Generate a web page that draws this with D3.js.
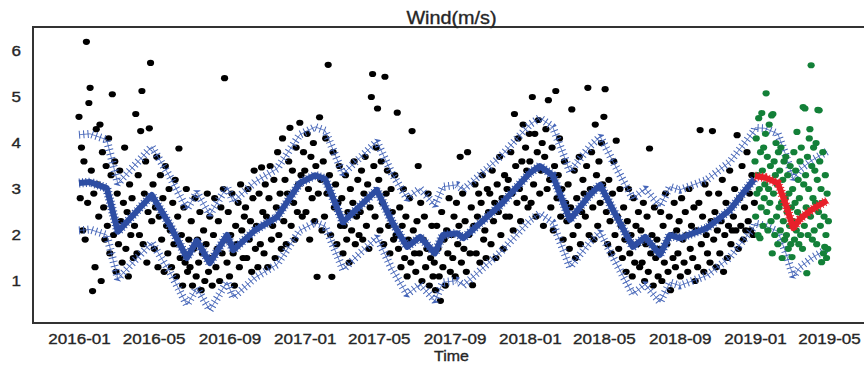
<!DOCTYPE html>
<html>
<head>
<meta charset="utf-8">
<script src="https://cdn.jsdelivr.net/npm/d3@7/dist/d3.min.js"></script>
<style>
  body { margin: 0; background: #fff; }
  svg { display: block; font-family: "Liberation Sans", Arial, sans-serif; }
  .label { fill: #262626; stroke: #262626; stroke-width: 0.35px; }
</style>
</head>
<body>
<svg id="chart" width="864" height="365"></svg>
<script>
// fitted trend (yhat) and bounds
var fitDates = ['2016-01-01','2016-01-19','2016-02-15','2016-03-04','2016-04-28','2016-05-28','2016-06-24',
  '2016-07-10','2016-07-31','2016-08-28','2016-09-07','2016-10-12','2016-11-17','2016-12-24','2017-01-18',
  '2017-02-03','2017-03-04','2017-04-28','2017-05-22','2017-06-16','2017-07-07','2017-07-31','2017-08-13',
  '2017-09-05','2017-09-15','2017-11-14','2018-01-01','2018-01-17','2018-02-07','2018-03-07','2018-04-08',
  '2018-04-25','2018-05-16','2018-06-17','2018-07-07','2018-07-18','2018-07-31','2018-08-16','2018-09-01',
  '2018-10-15','2018-11-21','2018-12-31'];
var fitValues = [3.13,3.15,3.02,2.07,2.87,2.20,1.50,1.88,1.39,2.00,1.67,2.10,2.39,3.13,3.30,
  3.22,2.28,2.98,2.30,1.74,1.96,1.60,2.00,2.04,1.93,2.65,3.35,3.50,3.30,2.33,2.87,
  3.09,2.54,1.74,1.96,1.78,1.57,2.00,1.93,2.15,2.54,3.22];
var fitUpper = [4.18,4.20,4.07,3.12,3.92,3.25,2.56,2.93,2.45,3.05,2.72,3.15,3.44,4.18,4.35,
  4.27,3.33,4.03,3.35,2.79,3.01,2.65,3.05,3.09,2.98,3.70,4.40,4.55,4.35,3.38,3.92,
  4.14,3.59,2.79,3.01,2.83,2.62,3.05,2.98,3.20,3.59,4.27];
var fitLower = [2.10,2.12,2.00,1.05,1.84,1.18,0.48,0.85,0.37,0.98,0.64,1.07,1.36,2.10,2.27,
  2.19,1.25,1.95,1.27,0.71,0.93,0.57,0.97,1.01,0.90,1.62,2.32,2.47,2.27,1.30,1.84,
  2.06,1.51,0.71,0.93,0.75,0.54,0.97,0.90,1.12,1.51,2.19];

// forecast over the test period
var fcDates = ['2019-01-01','2019-01-17','2019-02-07','2019-02-19','2019-03-04','2019-03-15','2019-04-03','2019-04-28'];
var fcValues = [3.28,3.25,3.13,2.70,2.15,2.35,2.55,2.75];
var fcUpper = [4.33,4.32,4.20,3.77,3.22,3.42,3.62,3.82];
var fcLower = [2.25,2.20,2.08,1.65,1.10,1.30,1.50,1.70];

// observed wind speed, one value every 2 days from Jan 1 of each year
var obs2016 = [
  4.57,2.8,3.9,2.1,3.6,1.9,6.2,2.7,4.87,5.2,3.4,0.78,2.9,1.3,4.3,
  3.1,2.4,4.4,1.0,3.8,2.6,1.9,3.5,2.2,4.1,1.6,3.3,5.06,2.0,3.6,
  1.2,2.9,1.8,3.4,2.3,1.4,2.7,3.9,1.7,2.5,1.1,3.1,2.0,2.8,1.5,
  2.2,4.63,1.6,3.3,2.0,4.26,5.13,1.8,2.9,3.6,1.4,2.5,4.32,5.74,2.3,
  3.1,1.7,2.6,3.7,1.3,2.4,3.3,1.9,2.8,1.2,3.5,2.2,1.6,3.0,2.1,
  1.3,2.7,1.8,3.2,1.1,2.4,3.88,1.5,2.0,0.9,2.6,1.4,3.0,1.2,1.9,
  1.3,2.3,0.9,1.7,2.8,1.1,1.9,1.4,2.5,0.8,1.6,2.1,1.0,1.8,2.9,
  1.2,2.4,1.5,0.9,2.0,2.8,1.3,1.7,2.3,1.0,2.6,1.6,3.0,5.41,1.9,
  1.4,2.5,1.1,2.0,2.9,1.6,0.9,2.2,1.8,2.7,1.3,3.1,2.1,1.5,2.4,
  2.6,1.5,3.0,1.9,2.3,1.2,2.8,3.4,1.7,2.2,1.3,2.9,1.8,3.47,2.5,
  1.6,3.1,2.4,1.3,2.8,3.5,1.9,2.2,3.2,1.5,2.6,3.8,2.0,2.9,1.7,
  4.1,2.3,3.2,1.8,2.9,3.6,4.33,2.2,3.4,2.7,1.9,3.9,2.5,3.1,4.44,
  3.3,2.4,3.8];
var obs2017 = [
  3.4,2.5,4.2,3.0,1.9,3.7,2.8,4.0,2.3,3.5,1.09,2.9,4.56,3.2,2.1,
  3.6,2.4,4.1,2.9,5.7,3.3,2.0,1.09,3.8,2.6,3.1,1.8,2.7,3.5,2.2,
  2.8,1.6,2.2,3.3,1.9,2.5,1.4,3.0,2.1,2.7,3.6,1.8,2.4,3.2,2.0,
  2.5,3.4,1.9,2.9,3.7,2.2,3.1,1.7,2.6,5.0,5.5,3.5,2.4,3.9,4.75,
  3.2,2.1,3.6,2.7,1.8,5.44,2.9,3.4,2.2,1.6,3.0,2.5,1.9,3.3,2.0,
  4.66,1.7,2.6,1.3,2.2,3.0,1.5,2.4,1.1,1.9,2.8,1.4,4.26,2.1,1.6,
  1.2,2.3,3.5,1.6,2.7,1.0,1.9,2.4,1.3,1.7,2.9,0.9,1.5,2.2,1.1,
  1.4,0.8,2.2,1.7,1.1,0.57,2.5,1.3,1.9,0.9,2.1,1.6,2.8,1.2,2.0,
  1.5,2.4,1.1,2.7,1.8,2.2,3.7,1.4,2.9,1.7,2.3,1.2,3.8,2.0,1.6,
  2.6,0.91,2.2,3.1,1.6,2.4,2.9,1.4,2.7,3.3,1.9,2.1,1.5,3.0,2.5,
  2.9,1.8,3.4,2.3,2.7,1.5,3.1,2.5,3.7,2.0,2.8,1.7,3.3,2.4,3.0,
  3.2,2.4,3.8,2.9,2.1,4.63,3.5,2.7,4.1,3.0,2.3,3.6,4.4,2.8,3.9,
  3.4,2.6,4.2];
var obs2018 = [
  3.6,2.7,5.0,3.1,4.2,2.4,3.8,4.5,2.9,3.4,4.0,2.2,3.7,4.3,3.0,
  4.93,3.2,2.6,3.9,2.1,3.5,5.13,2.8,3.3,4.1,2.4,3.0,1.9,3.6,2.7,
  2.3,3.1,1.7,2.6,4.73,2.0,3.4,1.5,2.8,2.2,3.7,1.8,2.5,3.2,2.9,
  2.4,3.5,5.2,2.0,3.0,3.8,2.6,1.9,4.4,3.3,2.2,3.6,2.7,4.0,3.1,
  4.57,5.17,2.5,1.8,3.2,2.3,1.6,2.9,3.6,2.0,4.05,2.4,1.7,3.0,2.2,
  1.5,2.6,1.9,1.2,2.3,3.0,1.6,2.0,1.1,2.8,1.4,2.2,1.8,2.5,1.3,
  2.1,1.4,2.7,1.0,1.8,2.4,1.2,3.88,1.6,2.0,0.9,2.6,1.5,1.9,1.1,
  1.7,2.5,1.0,2.2,1.4,2.9,1.8,1.2,2.4,0.8,2.0,1.5,2.7,1.3,2.1,
  1.6,2.3,1.1,2.8,1.9,1.4,2.5,2.0,1.2,3.0,1.7,2.2,1.5,2.6,1.0,
  2.1,1.3,2.7,4.28,1.8,2.4,1.2,3.1,2.0,1.6,2.9,1.4,2.3,4.26,1.9,
  2.5,1.3,2.1,2.9,1.6,2.3,3.2,1.2,2.0,2.7,1.5,2.2,3.4,1.8,2.1,
  2.4,3.0,2.1,4.17,1.7,2.8,2.2,3.5,1.9,2.6,2.1,3.8,2.3,2.9,2.1,
  3.3,2.0,2.7];

// observed test values, daily from 2019-01-01
var testValues = [
  3.6,2.4,4.1,2.9,3.3,2.0,4.54,3.0,1.93,3.8,
  2.6,4.65,3.4,2.2,3.9,2.8,3.1,4.2,5.08,2.5,
  3.7,2.1,3.0,4.4,2.7,3.5,2.3,4.6,1.6,4.63,
  2.9,3.6,2.0,3.3,4.0,2.4,3.1,1.8,3.8,2.6,
  3.4,2.1,3.9,2.7,1.5,3.2,2.3,3.6,1.9,2.8,
  3.7,2.0,2.5,3.3,1.7,2.9,2.2,3.5,1.8,2.6,
  1.52,3.0,2.3,3.8,1.9,2.7,3.4,2.1,4.24,2.5,
  3.2,1.8,2.8,3.6,2.0,3.9,2.4,1.7,4.78,3.1,
  2.2,4.75,3.3,2.6,1.17,3.7,2.0,3.0,4.1,4.3,
  2.4,5.69,3.5,1.9,2.8,3.9,2.1,3.4,2.7,4.0,
  1.8,3.2,4.72,2.5,4.71,3.6,2.2,3.0,1.41,2.7,
  3.8,1.6,2.4,1.74,3.3,2.0,1.5,2.9,1.7,2.3];

var yTicks = [1, 2, 3, 4, 5, 6];
var xTickLabels = ['2016-01','2016-05','2016-09','2017-01','2017-05','2017-09','2018-01','2018-05','2018-09','2019-01','2019-05'];

var svg = d3.select('#chart');
var parseDay = d3.utcParse('%Y-%m-%d');
var parseMonth = d3.utcParse('%Y-%m');

var box = {left: 33, right: 870, top: 27, bottom: 323};
var stretch = 'scale(1.1,1)';   // the picture is a little wider than tall

var x = d3.scaleUtc()
    .domain([parseDay('2016-01-01'), parseDay('2019-01-01')])
    .range([79, 755]);
var y = d3.scaleLinear()
    .domain([1, 6])
    .range([281, 51]);

function everyTwoDays(values, year) {
    var start = parseDay(year + '-01-01');
    return values.map(function (v, i) {
        return {date: d3.utcDay.offset(start, 2 * i), value: v};
    });
}

function pairs(dates, values) {
    return dates.map(function (d, i) { return {date: parseDay(d), value: values[i]}; });
}

var observed = everyTwoDays(obs2016, 2016)
    .concat(everyTwoDays(obs2017, 2017))
    .concat(everyTwoDays(obs2018, 2018));
var testStart = parseDay('2019-01-01');
var test = testValues.map(function (v, i) {
    return {date: d3.utcDay.offset(testStart, i), value: v};
});

var line = d3.line()
    .x(function (d) { return x(d.date); })
    .y(function (d) { return y(d.value); });

var plot = svg.append('g');

function dots(cls, data, color) {
    plot.selectAll('.' + cls)
        .data(data)
      .enter()
      .append('ellipse')
        .attr('class', cls)
        .attr('cx', function (d) { return x(d.date); })
        .attr('cy', function (d) { return y(d.value); })
        .attr('rx', 3.6)
        .attr('ry', 3.1)
        .attr('fill', color);
}

// a ribbon of short cross strokes imitates the weekly wiggle
function wiggly(points, color, width, gap, solid) {
    if (solid) {
        plot.append('path')
            .attr('d', line(points))
            .attr('fill', 'none')
            .attr('stroke', color)
            .attr('stroke-width', solid)
            .attr('stroke-linejoin', 'round');
    }
    plot.append('path')
        .attr('d', line(points))
        .attr('fill', 'none')
        .attr('stroke', color)
        .attr('stroke-width', width)
        .attr('stroke-linejoin', 'bevel')
        .attr('stroke-dasharray', '1 ' + gap);
}

dots('obs', observed, '#000');

var upper = pairs(fitDates, fitUpper).concat(pairs(fcDates, fcUpper));
var lower = pairs(fitDates, fitLower).concat(pairs(fcDates, fcLower));
[upper, lower].forEach(function (b) {
    wiggly(b, '#4565b8', 8, 3.3, 0.8);
});

wiggly(pairs(fitDates, fitValues), '#2e4ea3', 9, 2.3, 6);

dots('test', test, '#138038');

wiggly(pairs(fcDates, fcValues), '#e8202a', 9, 2.3, 6);

// spines
svg.append('rect')
    .attr('x', box.left)
    .attr('y', box.top)
    .attr('width', box.right - box.left)
    .attr('height', box.bottom - box.top)
    .attr('fill', 'none')
    .attr('stroke', '#333')
    .attr('stroke-width', 2);

// axes
var xAxis = d3.axisBottom(x)
    .tickValues(xTickLabels.map(parseMonth))
    .tickFormat(d3.utcFormat('%Y-%m'))
    .tickSize(0)
    .tickPadding(0);
var gx = svg.append('g')
    .attr('transform', 'translate(0,' + box.bottom + ')')
    .call(xAxis);
gx.select('.domain').remove();
gx.selectAll('text')
    .attr('class', 'label')
    .attr('dy', null)
    .attr('y', 21)
    .attr('font-size', 15.5)
    .attr('transform', stretch);

var yAxis = d3.axisLeft(y)
    .tickValues(yTicks)
    .tickFormat(d3.format('d'))
    .tickSize(0)
    .tickPadding(11);
var gy = svg.append('g')
    .attr('transform', 'translate(' + box.left + ',0)')
    .call(yAxis);
gy.select('.domain').remove();
gy.selectAll('text')
    .attr('class', 'label')
    .attr('font-size', 15.5)
    .attr('transform', stretch);

// titles
svg.append('text')
    .attr('class', 'label')
    .attr('transform', 'translate(' + (box.left + box.right) / 2 + ',24) ' + stretch)
    .attr('text-anchor', 'middle')
    .attr('font-size', 18)
    .text('Wind(m/s)');

svg.append('text')
    .attr('class', 'label')
    .attr('transform', 'translate(' + (box.left + box.right) / 2 + ',361) ' + stretch)
    .attr('text-anchor', 'middle')
    .attr('font-size', 14.5)
    .text('Time');
</script>
</body>
</html>
